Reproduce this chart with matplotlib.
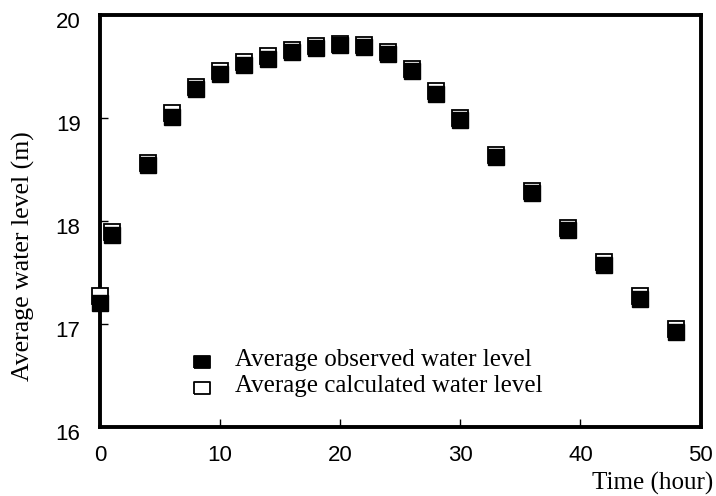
import matplotlib
matplotlib.use("Agg")
import matplotlib.pyplot as plt
from matplotlib.lines import Line2D
from matplotlib.transforms import ScaledTranslation

time_h = [0, 1, 4, 6, 8, 10, 12, 14, 16, 18, 20, 22, 24, 26, 28, 30, 33, 36, 39, 42, 45, 48]
observed = [17.20, 17.86, 18.54, 19.01, 19.28, 19.42, 19.51, 19.57, 19.64, 19.68, 19.71, 19.69,
            19.62, 19.45, 19.23, 18.98, 18.62, 18.27, 17.91, 17.57, 17.24, 16.92]
calculated = [17.27, 17.89, 18.56, 19.05, 19.30, 19.45, 19.54, 19.60, 19.66, 19.70, 19.72, 19.71,
              19.64, 19.47, 19.26, 19.00, 18.64, 18.29, 17.93, 17.60, 17.27, 16.95]
xticks = [0, 10, 20, 30, 40, 50]
yticks = [16, 17, 18, 19, 20]
legend_labels = ['Average observed water level', 'Average calculated water level']

W, H = 716, 496
fig = plt.figure(figsize=(W/100, H/100), dpi=100)
ax = fig.add_axes([100/W, 1 - 427/H, 600.5/W, 412.3/H])

ms = 11
ax.plot(time_h, calculated, 's', ms=ms, mfc='white', mec='black', mew=1.3, ls='none',
        zorder=3, clip_on=False)
ax.plot(time_h, observed, 's', ms=ms, mfc='black', mec='black', mew=1.0, ls='none',
        zorder=4, clip_on=False)

ax.set_xlim(0, 50)
ax.set_ylim(16, 20)
ax.set_xticks(xticks)
ax.set_yticks(yticks)
ax.tick_params(axis='both', direction='in', length=6, width=1, labelsize=16)
ax.tick_params(axis='x', pad=13)
ax.tick_params(axis='y', pad=14)
for lab in ax.get_xticklabels() + ax.get_yticklabels():
    lab.set_family(['Liberation Sans', 'DejaVu Sans'])
off = ScaledTranslation(0, -5/100, fig.dpi_scale_trans)
for lab in ax.get_yticklabels():
    lab.set_transform(lab.get_transform() + off)
for s in ax.spines.values():
    s.set_linewidth(2.8)

serif = ['Liberation Serif', 'DejaVu Serif']
fig.text(23/W, 1 - 256/H, 'Average water level (m)', rotation=90, ha='center', va='center',
         fontsize=18.5, family=serif)
fig.text(713/W, 1 - 483/H, 'Time (hour)', ha='right', va='center', fontsize=18, family=serif)

# legend (drawn manually)
rect = [(-1, -0.72), (1, -0.72), (1, 0.72), (-1, 0.72), (-1, -0.72)]
leg_rows = [(361.5, 366, 'black'), (387.5, 392, 'white')]
for (my, by, fc), lab in zip(leg_rows, legend_labels):
    fig.add_artist(Line2D([202/W], [1 - my/H], marker=rect, ms=12, mfc=fc, mec='black',
                          mew=1.3, ls='none', transform=fig.transFigure))
    fig.text(235/W, 1 - by/H, lab, ha='left', va='baseline', fontsize=18, family=serif)

fig.savefig('out.png', dpi=100)
